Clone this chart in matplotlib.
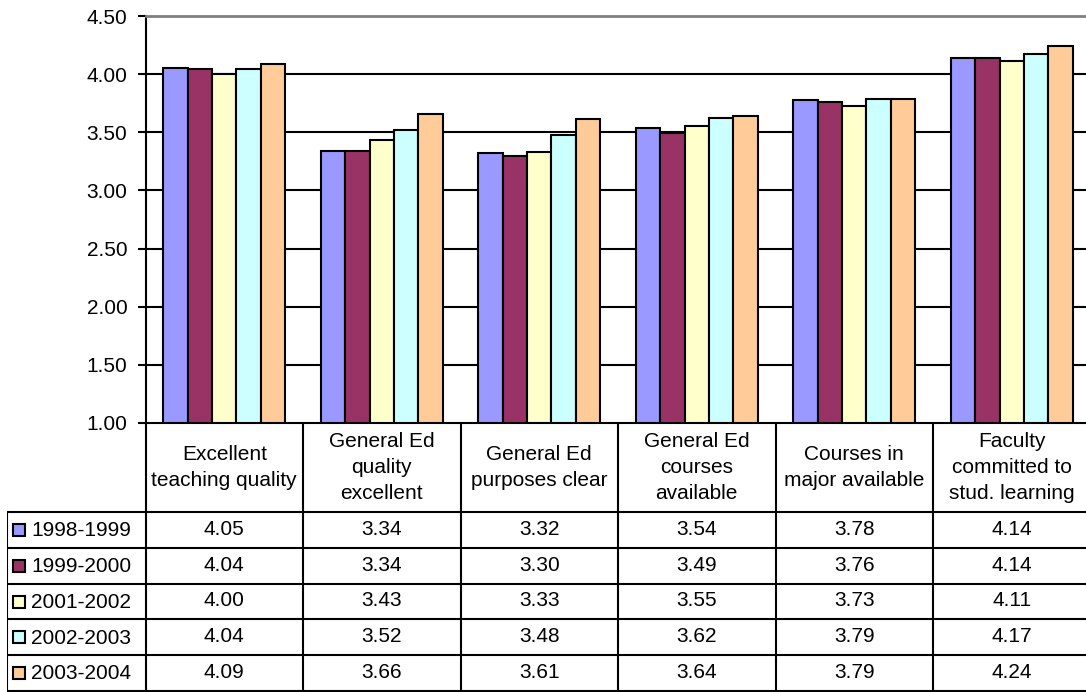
import numpy as np
import matplotlib
matplotlib.use("Agg")
import matplotlib.pyplot as plt

plt.rcParams['font.family'] = ['Liberation Sans', 'DejaVu Sans']

# donnees du graphique
categories = ["Excellent\nteaching quality", "General Ed\nquality\nexcellent",
              "General Ed\npurposes clear", "General Ed\ncourses\navailable",
              "Courses in\nmajor available", "Faculty\ncommitted to\nstud. learning"]
years = ["1998-1999", "1999-2000", "2001-2002", "2002-2003", "2003-2004"]
v_1998 = [4.05, 3.34, 3.32, 3.54, 3.78, 4.14]
v_1999 = [4.04, 3.34, 3.30, 3.49, 3.76, 4.14]
v_2001 = [4.00, 3.43, 3.33, 3.55, 3.73, 4.11]
v_2002 = [4.04, 3.52, 3.48, 3.62, 3.79, 4.17]
v_2003 = [4.09, 3.66, 3.61, 3.64, 3.79, 4.24]
colors = ["#9999FF", "#993366", "#FFFFCC", "#CCFFFF", "#FFCC99"]
yticks = [1.0, 1.5, 2.0, 2.5, 3.0, 3.5, 4.0, 4.5]

series = [v_1998, v_1999, v_2001, v_2002, v_2003]
FS = 15
W, H = 1086, 692

fig = plt.figure(figsize=(W / 100, H / 100), dpi=100)

# zone du graphique (en pixels)
x0, x1 = 145.5, 1090.5
ytop, ybot = 16, 423
ax = fig.add_axes([x0 / W, 1 - ybot / H, (x1 - x0) / W, (ybot - ytop) / H])

n = len(categories)
x = np.arange(n)
bw = 0.775 / len(series)
for i, vals in enumerate(series):
    ax.bar(x + (i - 2) * bw, np.array(vals) - 1.0, bw, bottom=1.0, color=colors[i],
           edgecolor="black", linewidth=1.5, zorder=3)

ax.set_xlim(-0.5, n - 0.5)
ax.set_ylim(1.0, 4.5)
ax.set_yticks(yticks)
ax.set_yticklabels(["%.2f" % t for t in yticks], fontsize=FS)
ax.set_xticks([])
ax.tick_params(axis="y", direction="out", length=6, width=1.5, pad=7)
for t in yticks[1:-1]:
    ax.axhline(t, color="black", lw=1.5, zorder=1)
ax.spines["left"].set_linewidth(1.5)
ax.spines["bottom"].set_linewidth(1.5)
ax.spines["top"].set_color("#808080")
ax.spines["top"].set_linewidth(2)
ax.spines["right"].set_visible(False)

# tableau de donnees sous le graphique
tx0 = 7
cw = (x1 - x0) / n
ta = fig.add_axes([tx0 / W, 0, (x1 - tx0) / W, (H - ybot) / H])
left = -0.5 - (x0 - tx0) / cw
ta.set_xlim(left, n - 0.5)
ta.set_ylim(-0.03, 7.5)
ta.axis("off")

lw = 1.5
# lignes verticales des categories
for k in range(n + 1):
    ta.plot([k - 0.5, k - 0.5], [0, 7.5], color="black", lw=lw, solid_capstyle="butt")
ta.plot([left, left], [0, 5], color="black", lw=lw)
for r in range(6):
    ta.plot([left, n - 0.5], [r, r], color="black", lw=lw)

for k, c in enumerate(categories):
    ta.text(k, 6.25, c, ha="center", va="center", fontsize=FS, linespacing=1.45)

sq_w = 12 / cw
for i, (yr, vals) in enumerate(zip(years, series)):
    yc = 4.5 - i
    ta.add_patch(plt.Rectangle((left + 6 / cw, yc - 6 / 36), sq_w, 12 / 36,
                               facecolor=colors[i], edgecolor="black", lw=1.5))
    ta.text(left + 24 / cw, yc - 0.02, yr, ha="left", va="center", fontsize=FS)
    for k, v in enumerate(vals):
        ta.text(k, yc + 0.02, "%.2f" % v, ha="center", va="center", fontsize=FS)

fig.savefig("out.png", dpi=100)
